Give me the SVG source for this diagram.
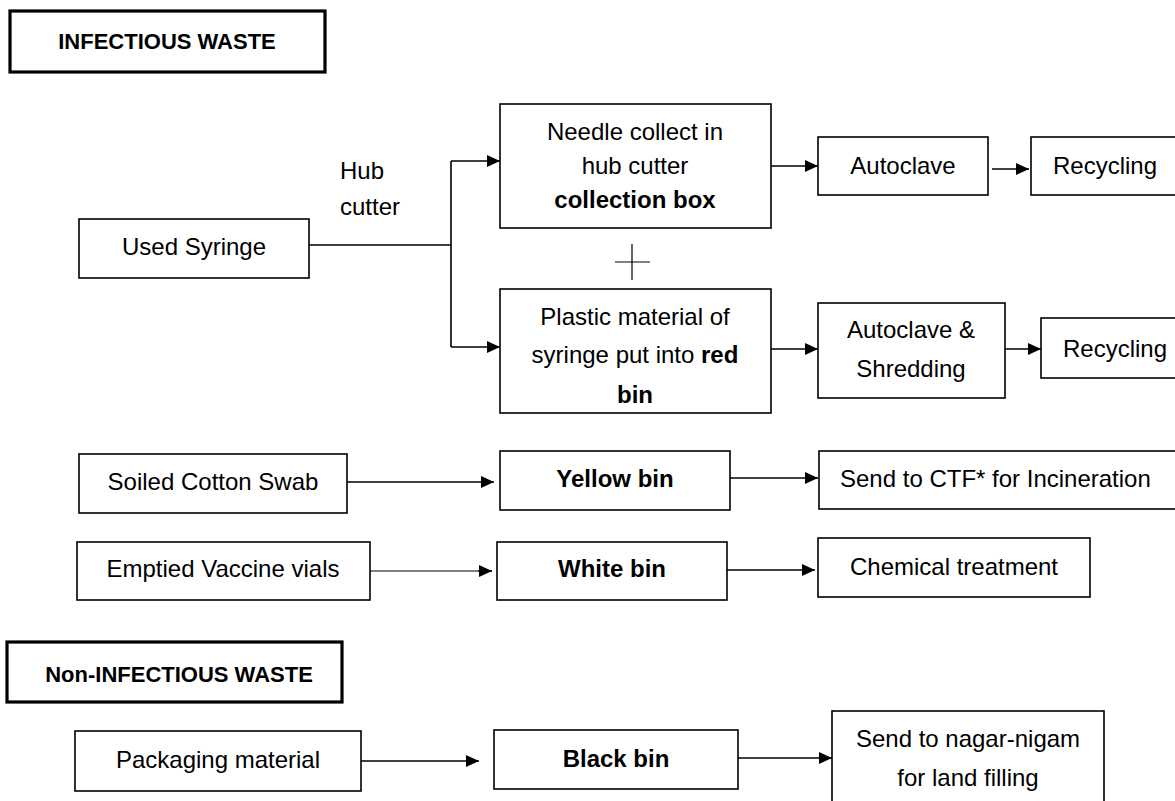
<svg xmlns="http://www.w3.org/2000/svg" width="1175" height="801" viewBox="0 0 1175 801">
<defs>
<marker id="ah" markerUnits="userSpaceOnUse" markerWidth="14" markerHeight="12" refX="13" refY="6" orient="auto">
<path d="M0,0 L13,6 L0,12 z" fill="#000"/>
</marker>
<style>
.box{fill:#fff;stroke:#000;stroke-width:1.6}
.hbox{fill:#fff;stroke:#000;stroke-width:3.2}
.t{font-family:"Liberation Sans",Arial,sans-serif;font-size:24px;fill:#000;text-anchor:middle}
.b{font-weight:bold}
.h{font-family:"Liberation Sans",Arial,sans-serif;font-size:22px;font-weight:bold;fill:#000;text-anchor:middle}
.c{fill:none;stroke:#000;stroke-width:1.6}
.ca{fill:none;stroke:#000;stroke-width:1.6;marker-end:url(#ah)}
</style>
</defs>
<rect width="1175" height="801" fill="#fff"/>

<g id="connectors">
<path class="c" d="M309,245 H451 M451,161 V347"/>
<path class="ca" d="M451,161 H500"/>
<path class="ca" d="M451,347 H500"/>
<path class="ca" d="M771,166 H818"/>
<path class="ca" d="M992,169 H1029"/>
<path class="ca" d="M771,349 H818"/>
<path class="ca" d="M1005,349 H1041"/>
<path class="ca" d="M347,482 H494"/>
<path class="ca" d="M727,478 H818"/>
<path class="c" d="M367,571 H478" style="stroke-width:1.1"/>
<path class="ca" d="M478,571 H492"/>
<path class="ca" d="M725,570 H815"/>
<path class="ca" d="M361,761 H479"/>
<path class="ca" d="M738,758 H832"/>
<path class="c" d="M615,262 H650 M632,244 V280" style="stroke-width:1.2"/>
</g>

<g id="infectious-header">
<rect class="hbox" x="10" y="11" width="315" height="61"/>
<text class="h" x="167" y="49">INFECTIOUS WASTE</text>
</g>

<g id="hub-cutter-label">
<text class="t" x="340" y="179" style="text-anchor:start">Hub</text>
<text class="t" x="340" y="215" style="text-anchor:start">cutter</text>
</g>

<g id="used-syringe">
<rect class="box" x="79" y="219" width="230" height="59"/>
<text class="t" x="194" y="255">Used Syringe</text>
</g>

<g id="needle-box">
<rect class="box" x="500" y="104" width="271" height="124"/>
<text class="t" x="635" y="140">Needle collect in</text>
<text class="t" x="635" y="174">hub cutter</text>
<text class="t b" x="635" y="208">collection box</text>
</g>

<g id="autoclave">
<rect class="box" x="818" y="137" width="170" height="58"/>
<text class="t" x="903" y="174">Autoclave</text>
</g>

<g id="recycling-1">
<rect class="box" x="1031" y="137" width="160" height="58"/>
<text class="t" x="1053" y="174" style="text-anchor:start">Recycling</text>
</g>

<g id="plastic-box">
<rect class="box" x="500" y="289" width="271" height="124"/>
<text class="t" x="635" y="325">Plastic material of</text>
<text class="t" x="635" y="363">syringe put into <tspan class="b">red</tspan></text>
<text class="t b" x="635" y="403">bin</text>
</g>

<g id="autoclave-shredding">
<rect class="box" x="818" y="303" width="187" height="95"/>
<text class="t" x="911" y="338">Autoclave &amp;</text>
<text class="t" x="911" y="377">Shredding</text>
</g>

<g id="recycling-2">
<rect class="box" x="1041" y="318" width="150" height="60"/>
<text class="t" x="1063" y="357" style="text-anchor:start">Recycling</text>
</g>

<g id="soiled-cotton">
<rect class="box" x="79" y="454" width="268" height="59"/>
<text class="t" x="213" y="490">Soiled Cotton Swab</text>
</g>

<g id="yellow-bin">
<rect class="box" x="500" y="451" width="230" height="59"/>
<text class="t b" x="615" y="487">Yellow bin</text>
</g>

<g id="ctf">
<rect class="box" x="819" y="451" width="370" height="58"/>
<text class="t" x="840" y="487" style="text-anchor:start">Send to CTF* for Incineration</text>
</g>

<g id="emptied-vials">
<rect class="box" x="77" y="542" width="293" height="58"/>
<text class="t" x="223" y="577">Emptied Vaccine vials</text>
</g>

<g id="white-bin">
<rect class="box" x="497" y="542" width="230" height="58"/>
<text class="t b" x="612" y="577">White bin</text>
</g>

<g id="chemical">
<rect class="box" x="818" y="538" width="272" height="59"/>
<text class="t" x="954" y="575">Chemical treatment</text>
</g>

<g id="non-infectious-header">
<rect class="hbox" x="7" y="642" width="335" height="60"/>
<text class="h" x="179" y="682">Non-INFECTIOUS WASTE</text>
</g>

<g id="packaging">
<rect class="box" x="75" y="731" width="286" height="60"/>
<text class="t" x="218" y="768">Packaging material</text>
</g>

<g id="black-bin">
<rect class="box" x="494" y="730" width="244" height="59"/>
<text class="t b" x="616" y="767">Black bin</text>
</g>

<g id="nagar-nigam">
<rect class="box" x="832" y="711" width="272" height="100"/>
<text class="t" x="968" y="747">Send to nagar-nigam</text>
<text class="t" x="968" y="786">for land filling</text>
</g>
</svg>
